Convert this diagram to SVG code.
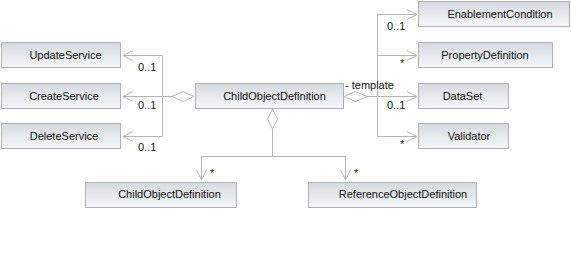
<svg xmlns="http://www.w3.org/2000/svg" width="571" height="271" viewBox="0 0 571 271">
<defs>
<linearGradient id="g" x1="0" y1="0" x2="0" y2="1">
<stop offset="0" stop-color="#d6d9e0"/>
<stop offset="1" stop-color="#f7f7f9"/>
</linearGradient>
<marker id="arr" viewBox="0 0 12 12" refX="11" refY="6" markerWidth="12" markerHeight="12" markerUnits="userSpaceOnUse" orient="auto">
<path d="M1,1 L11,6 L1,11" fill="none" stroke="#b4b4b4" stroke-width="1"/>
</marker>
</defs>
<style>
.box{fill:url(#g);stroke:#b0b0b0;stroke-width:1}
.t{font-family:"Liberation Sans",Arial,sans-serif;font-size:11px;fill:#111;text-anchor:middle}
.l{font-family:"Liberation Sans",Arial,sans-serif;font-size:11px;fill:#111}
.c{fill:none;stroke:#b4b4b4;stroke-width:1}
.d{fill:#fff;stroke:#b4b4b4;stroke-width:1}
</style>
<rect width="571" height="271" fill="#fff"/>
<g id="connectors">
<path class="c" d="M162.5,55.5 V136.5"/>
<path class="c" d="M162.5,55.5 H123" marker-end="url(#arr)"/>
<path class="c" d="M172,96.5 H123" marker-end="url(#arr)"/>
<path class="c" d="M162.5,136.5 H123" marker-end="url(#arr)"/>
<polygon class="d" points="194,96.5 183,91.5 172,96.5 183,101.5"/>
<path class="c" d="M367,96.5 H417" marker-end="url(#arr)"/>
<path class="c" d="M377.5,14.5 V136.5"/>
<path class="c" d="M377.5,14.5 H417" marker-end="url(#arr)"/>
<path class="c" d="M377.5,55.5 H417" marker-end="url(#arr)"/>
<path class="c" d="M377.5,136.5 H417" marker-end="url(#arr)"/>
<polygon class="d" points="344,96.5 355.5,91.5 367,96.5 355.5,101.5"/>
<path class="c" d="M272.5,129 V156.5 H345.5 V180" marker-end="url(#arr)"/>
<path class="c" d="M272.5,156.5 H201.5 V180" marker-end="url(#arr)"/>
<polygon class="d" points="272.5,109 277.5,119 272.5,129 267.5,119"/>
<text class="l" x="138" y="71">0..1</text>
<text class="l" x="138" y="109">0..1</text>
<text class="l" x="138" y="151">0..1</text>
<text class="l" x="345" y="89">- template</text>
<text class="l" x="387" y="30">0..1</text>
<text class="l" x="400" y="67">*</text>
<text class="l" x="387" y="109">0..1</text>
<text class="l" x="400" y="148">*</text>
<text class="l" x="210" y="177">*</text>
<text class="l" x="354" y="177">*</text>
</g>
<g id="UpdateService"><rect class="box" x="1.5" y="42.5" width="119" height="25"/><text class="t" x="65.5" y="59">UpdateService</text></g>
<g id="CreateService"><rect class="box" x="1.5" y="83.5" width="119" height="25"/><text class="t" x="64" y="100">CreateService</text></g>
<g id="DeleteService"><rect class="box" x="1.5" y="123.5" width="119" height="25"/><text class="t" x="64" y="140">DeleteService</text></g>
<g id="ChildObjectDefinitionMain"><rect class="box" x="195.5" y="83.5" width="148" height="25"/><text class="t" x="274.5" y="100">ChildObjectDefinition</text></g>
<g id="EnablementCondition"><rect class="box" x="418.5" y="1.5" width="151" height="25"/><text class="t" x="500" y="18">EnablementCondition</text></g>
<g id="PropertyDefinition"><rect class="box" x="418.5" y="42.5" width="134" height="25"/><text class="t" x="485" y="59">PropertyDefinition</text></g>
<g id="DataSet"><rect class="box" x="418.5" y="83.5" width="90" height="25"/><text class="t" x="462.5" y="100">DataSet</text></g>
<g id="Validator"><rect class="box" x="418.5" y="123.5" width="90" height="25"/><text class="t" x="469" y="140">Validator</text></g>
<g id="ChildObjectDefinition"><rect class="box" x="85.5" y="182.5" width="151" height="25"/><text class="t" x="169.5" y="198">ChildObjectDefinition</text></g>
<g id="ReferenceObjectDefinition"><rect class="box" x="308.5" y="182.5" width="168" height="25"/><text class="t" x="403" y="198">ReferenceObjectDefinition</text></g>
</svg>
